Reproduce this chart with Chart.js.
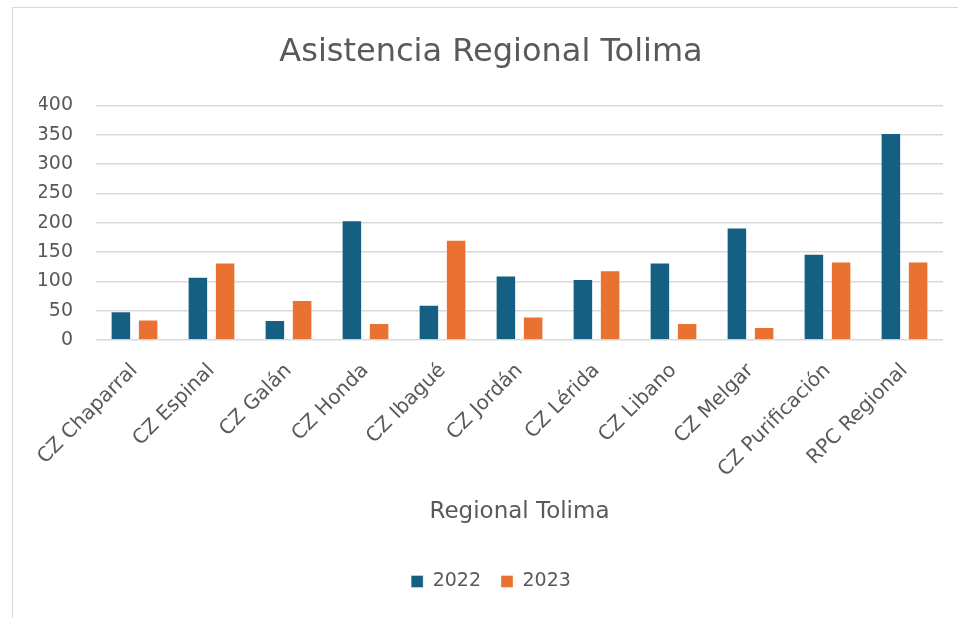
<!DOCTYPE html>
<html>
<head>
<meta charset="utf-8">
<script src="https://cdn.jsdelivr.net/npm/chart.js@4.4.1/dist/chart.umd.min.js"></script>
<style>
  html, body { margin: 0; padding: 0; background: #fff; }
  #wrap { position: relative; width: 958px; height: 618px; overflow: hidden; }
  #frame { position: absolute; left: 12px; top: 7px; width: 960px; height: 620px;
           border: 1px solid #d9d9d9; pointer-events: none; }
</style>
</head>
<body>
<div id="wrap">
  <canvas id="grafico" width="958" height="618"></canvas>
  <div id="frame"></div>
</div>
<script>
const categorias = ['CZ Chaparral', 'CZ Espinal', 'CZ Galán', 'CZ Honda', 'CZ Ibagué', 'CZ Jordán',
  'CZ Lérida', 'CZ Libano', 'CZ Melgar', 'CZ Purificación', 'RPC Regional'];
const valores2022 = [49, 108, 34, 204, 60, 110, 104, 132, 192, 147, 353];
const valores2023 = [35, 132, 68, 29, 171, 40, 119, 29, 22, 134, 134];

const cores = {
    azul: '#156082',
    naranja: '#E97132',
    texto: '#595959',
    grid: '#d9d9d9'
};
const fuente = "'DejaVu Sans', sans-serif";

new Chart(document.getElementById('grafico'), {
    type: 'bar',
    data: {
        labels: categorias,
        datasets: [
            { label: '2022', data: valores2022, backgroundColor: cores.azul, borderColor: 'rgba(255,255,255,0.35)', borderWidth: 1 },
            { label: '2023', data: valores2023, backgroundColor: cores.naranja, borderColor: 'rgba(255,255,255,0.35)', borderWidth: 1 }
        ]
    },
    options: {
        responsive: false,
        animation: false,
        categoryPercentage: 0.707,
        barPercentage: 0.754,
        layout: { padding: { left: 39, right: 15, top: 10, bottom: 17 } },
        plugins: {
            title: {
                display: true,
                text: 'Asistencia Regional Tolima',
                color: cores.texto,
                font: { family: fuente, size: 32, weight: 'normal' },
                padding: { top: 23, bottom: 34 }
            },
            legend: {
                position: 'bottom',
                labels: {
                    color: cores.texto,
                    font: { family: fuente, size: 19 },
                    boxWidth: 12,
                    boxHeight: 12,
                    padding: 20
                }
            },
            tooltip: { enabled: false }
        },
        scales: {
            x: {
                grid: { display: false },
                border: { display: false },
                ticks: {
                    color: cores.texto,
                    font: { family: fuente, size: 20 },
                    minRotation: 45,
                    maxRotation: 45,
                    padding: 11
                },
                title: {
                    display: true,
                    text: 'Regional Tolima',
                    color: cores.texto,
                    font: { family: fuente, size: 23 },
                    padding: { top: 0, bottom: 26 }
                },
                afterFit: (s) => { s.height = 212; }
            },
            y: {
                min: 0,
                max: 400,
                ticks: {
                    stepSize: 50,
                    color: cores.texto,
                    font: { family: fuente, size: 19 },
                    padding: 23
                },
                grid: { color: cores.grid, lineWidth: 1.4, drawTicks: false },
                border: { display: false },
                afterFit: (s) => { s.width = 57; }
            }
        }
    }
});
</script>
</body>
</html>
